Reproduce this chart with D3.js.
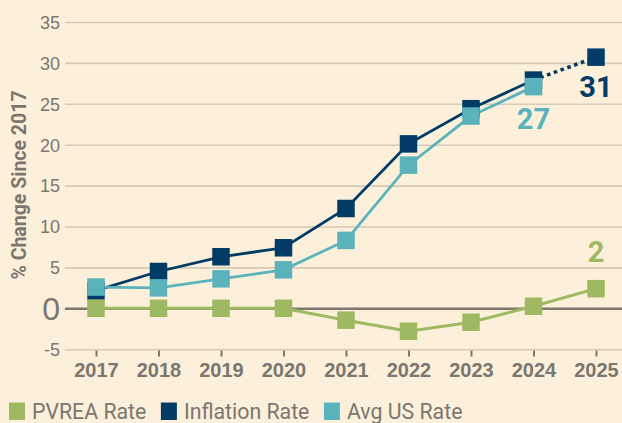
<!DOCTYPE html>
<html>
<head>
<meta charset="utf-8">
<script src="https://cdn.jsdelivr.net/npm/d3@7"></script>
<style>
  html, body { margin: 0; padding: 0; background: #fcf0da; }
  svg { display: block; font-family: Roboto, "Noto Sans", sans-serif; }
</style>
</head>
<body>
<div id="chart"></div>
<script>
// chart data
const years = ['2017', '2018', '2019', '2020', '2021', '2022', '2023', '2024', '2025'];
const pvreaRate = [0, 0, 0, 0, -1.45, -2.8, -1.7, 0.25, 2.4];
const inflationRate = [2.15, 4.5, 6.3, 7.4, 12.2, 20.1, 24.4, 27.9, 30.7];
const avgUsRate = [2.6, 2.5, 3.6, 4.7, 8.3, 17.5, 23.5, 27.1];
const yTicks = [-5, 0, 5, 10, 15, 20, 25, 30, 35];
const legendLabels = ['PVREA Rate', 'Inflation Rate', 'Avg US Rate'];
const endLabels = ['2', '31', '27'];

const width = 622, height = 423;
const colors = { pvrea: '#9fb862', inflation: '#023c66', avg: '#5ab3bb' };
const textGray = '#7b7670';

const svg = d3.select('#chart').append('svg')
    .attr('width', width)
    .attr('height', height);

svg.append('rect').attr('width', width).attr('height', height).attr('fill', '#fcf0da');

// scales
const xScale = d3.scalePoint().domain(years).range([96, 596]);
const yScale = d3.scaleLinear().domain([-5, 35]).range([349.2, 22]);

// y axis with gridlines
const yAxis = svg.append('g')
    .attr('class', 'y-axis')
    .attr('transform', 'translate(65,0)')
    .call(d3.axisLeft(yScale)
        .tickValues(yTicks)
        .tickFormat(d => String(d))
        .tickSize(-(width - 65))
        .tickPadding(5));

yAxis.select('.domain').remove();
yAxis.selectAll('.tick line')
    .attr('stroke', d => d === 0 ? '#7d7770' : '#d6cab6')
    .attr('stroke-width', d => d === 0 ? 2.5 : 1.6);
yAxis.selectAll('.tick text')
    .attr('fill', textGray)
    .attr('font-size', d => d === 0 ? 32 : 18)
    .attr('dy', d => d === 0 ? '0.36em' : '0.35em');

// y axis title
svg.append('text')
    .attr('transform', 'translate(26,185) rotate(-90)')
    .attr('text-anchor', 'middle')
    .attr('fill', textGray)
    .attr('font-size', 19.5)
    .attr('font-weight', 'bold')
    .text('% Change Since 2017');

// x axis
const xAxis = svg.append('g')
    .attr('class', 'x-axis')
    .attr('transform', 'translate(0,350.5)')
    .call(d3.axisBottom(xScale).tickSize(6).tickPadding(6));

xAxis.select('.domain').remove();
xAxis.selectAll('.tick line').attr('stroke', '#7d7770').attr('stroke-width', 2);
xAxis.selectAll('.tick text')
    .attr('fill', textGray)
    .attr('font-size', 20)
    .attr('font-weight', 'bold')
    .attr('dy', '0.71em');

// line generator
const line = d3.line()
    .x(d => xScale(d.year))
    .y(d => yScale(d.value));

const toPoints = arr => arr.map((v, i) => ({ year: years[i], value: v }));

const pvreaPts = toPoints(pvreaRate);
const inflationPts = toPoints(inflationRate);
const avgPts = toPoints(avgUsRate);

const plot = svg.append('g');

plot.append('path')
    .datum(pvreaPts)
    .attr('fill', 'none')
    .attr('stroke', colors.pvrea)
    .attr('stroke-width', 3)
    .attr('d', line);

// inflation: solid through 2024, dotted to 2025
plot.append('path')
    .datum(inflationPts.slice(0, 8))
    .attr('fill', 'none')
    .attr('stroke', colors.inflation)
    .attr('stroke-width', 2.8)
    .attr('d', line);

plot.append('path')
    .datum(inflationPts.slice(7))
    .attr('fill', 'none')
    .attr('stroke', colors.inflation)
    .attr('stroke-width', 3.6)
    .attr('stroke-dasharray', '3.6,3.6')
    .attr('d', line);

plot.append('path')
    .datum(avgPts)
    .attr('fill', 'none')
    .attr('stroke', colors.avg)
    .attr('stroke-width', 2.8)
    .attr('d', line);

// square markers
const sq = 17.5;
function markers(pts, color) {
    plot.append('g').selectAll('rect')
        .data(pts)
        .join('rect')
        .attr('x', d => xScale(d.year) - sq / 2)
        .attr('y', d => yScale(d.value) - sq / 2)
        .attr('width', sq)
        .attr('height', sq)
        .attr('fill', color);
}
markers(pvreaPts, colors.pvrea);
markers(inflationPts, colors.inflation);
markers(avgPts, colors.avg);

// end labels
const lastP = pvreaPts[pvreaPts.length - 1];
const lastI = inflationPts[inflationPts.length - 1];
const lastA = avgPts[avgPts.length - 1];

svg.append('text')
    .attr('x', xScale(lastP.year)).attr('y', yScale(lastP.value) - 27)
    .attr('text-anchor', 'middle').attr('font-size', 29).attr('font-weight', 'bold')
    .attr('fill', colors.pvrea).text(endLabels[0]);

svg.append('text')
    .attr('x', xScale(lastI.year)).attr('y', yScale(lastI.value) + 39.5)
    .attr('text-anchor', 'middle').attr('font-size', 29).attr('font-weight', 'bold')
    .attr('fill', colors.inflation).text(endLabels[1]);

svg.append('text')
    .attr('x', xScale(lastA.year)).attr('y', yScale(lastA.value) + 42.5)
    .attr('text-anchor', 'middle').attr('font-size', 29).attr('font-weight', 'bold')
    .attr('fill', colors.avg).text(endLabels[2]);

// legend
const legendColors = [colors.pvrea, colors.inflation, colors.avg];
let lx = 9;
legendLabels.forEach((label, i) => {
    svg.append('rect')
        .attr('x', lx).attr('y', 402.5)
        .attr('width', 16).attr('height', 17.5)
        .attr('fill', legendColors[i]);
    const t = svg.append('text')
        .attr('x', lx + 23).attr('y', 419)
        .attr('fill', textGray)
        .attr('font-size', 21.3)
        .text(label);
    lx += 23 + t.node().getComputedTextLength() + 14.5;
});
</script>
</body>
</html>
